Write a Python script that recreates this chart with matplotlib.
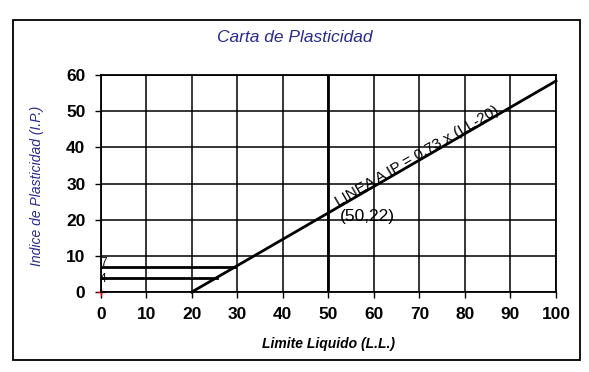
import matplotlib
matplotlib.use('Agg')
import matplotlib.pyplot as plt
import numpy as np
from matplotlib.patches import Rectangle

plt.rcParams['font.family'] = ['Liberation Sans', 'DejaVu Sans']

# Data
a_line_ll = [20, 100]
a_line_ip = [0, 58.4]
ip_limits = [7, 4]
ip_limit_ends = [29.6, 25.5]
ll_divider = 50
point_ll, point_ip = 50, 22
x_ticks = [0, 10, 20, 30, 40, 50, 60, 70, 80, 90, 100]
y_ticks = [0, 10, 20, 30, 40, 50, 60]

fig = plt.figure(figsize=(5.89, 3.72), dpi=100)
fig.patches.append(Rectangle((0.022, 0.032), 0.962, 0.914, transform=fig.transFigure,
                             fill=False, edgecolor='black', linewidth=1.3))
ax = fig.add_axes([0.171, 0.215, 0.773, 0.583])

ax.set_xlim(0, 100)
ax.set_ylim(0, 60)
ax.set_xticks(x_ticks)
ax.set_yticks(y_ticks)
ax.grid(True, color='black', linewidth=1.1)
ax.tick_params(labelsize=12.5, length=4, width=1.0, color='black', pad=7)
for lbl in ax.get_xticklabels() + ax.get_yticklabels():
    lbl.set_fontweight('bold')
for s in ax.spines.values():
    s.set_linewidth(1.3)

# A-line
ax.plot(a_line_ll, a_line_ip, color='black', linewidth=2.0, clip_on=False)
# horizontal limits
for ip, end, dy in zip(ip_limits, ip_limit_ends, [1.0, -0.4]):
    ax.plot([0, end], [ip, ip], color='black', linewidth=2.0)
    ax.text(0.6, ip + dy, str(ip), fontsize=8.5, ha='center', va='center')
# vertical line at LL = 50
ax.axvline(ll_divider, color='black', linewidth=2.0)
ax.plot([0], [0], marker='+', color='red', markersize=6, clip_on=False)

ax.text(point_ll + 2.5, point_ip - 1, '(50,22)', fontsize=12.5, ha='left', va='center')

# rotated label along the A-line
p1 = ax.transData.transform((a_line_ll[0], a_line_ip[0]))
p2 = ax.transData.transform((a_line_ll[1], a_line_ip[1]))
ang = np.degrees(np.arctan2(p2[1] - p1[1], p2[0] - p1[0]))
ax.text(52.5, 0.73 * (52.5 - 20) - 0.8, 'LINEA A IP = 0.73 x (LL-20)', fontsize=11,
        rotation=ang, rotation_mode='anchor', ha='left', va='bottom')

fig.text(0.5, 0.9, 'Carta de Plasticidad', fontsize=12.5, style='italic',
         color='#2a2a8c', ha='center', va='center')
fig.text(0.062, 0.5, 'Indice de Plasticidad (I.P.)', fontsize=10, style='italic',
         color='#2a2a8c', rotation=90, ha='center', va='center')
fig.text(0.558, 0.075, 'Limite Liquido (L.L.)', fontsize=10, style='italic',
         fontweight='bold', ha='center', va='center')

fig.savefig('out.png', dpi=100)
